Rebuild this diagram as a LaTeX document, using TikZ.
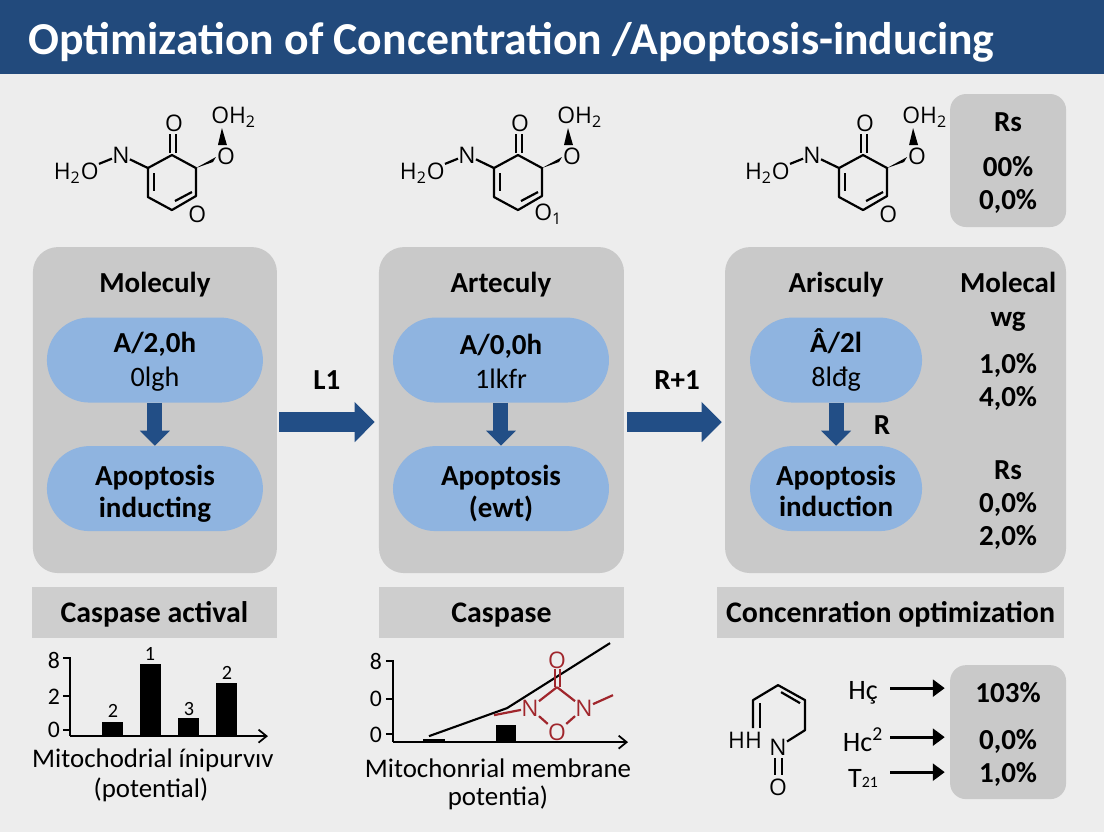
\documentclass[tikz,border=0pt]{standalone}
\usepackage{fontspec}
\setmainfont{Carlito}
\newfontfamily\chemfont{Open Sans}
\usetikzlibrary{arrows.meta,positioning}
\definecolor{pgbg}{RGB}{237,237,237}
\definecolor{pgtitle}{RGB}{34,74,124}
\definecolor{pgpanel}{RGB}{201,201,201}
\definecolor{pgbar}{RGB}{206,206,206}
\definecolor{pgpill}{RGB}{143,180,224}
\definecolor{pgarrow}{RGB}{34,78,134}
\definecolor{pgred}{RGB}{160,38,44}
\newcommand{\pilldrop}[1]{\rule{0pt}{#1}}
\tikzset{
  panelbox/.style={fill=pgpanel, rounded corners=0.5cm, inner sep=0pt},
  pillbox/.style={fill=pgpill, rounded corners=0.85cm, minimum height=1.7cm, inner sep=0pt, align=center, font=\fontsize{16}{19.3}\selectfont},
  pillboldbox/.style={pillbox, font=\fontsize{16.5}{18.2}\selectfont\bfseries},
  barbox/.style={fill=pgbar, minimum height=1.02cm, inner sep=0pt, text height=0.48cm, text depth=0.1cm, font=\fontsize{17}{18}\selectfont\bfseries},
  statbox/.style={fill=pgpanel, rounded corners=0.32cm, inner sep=0pt},
  boldlabel/.style={font=\fontsize{16.5}{18}\selectfont\bfseries, inner sep=0pt, text height=0.48cm, text depth=0.1cm},
  chartlabel/.style={font=\fontsize{15.3}{17}\selectfont, inner sep=0pt},
  ticklabel/.style={font=\fontsize{13.5}{15}\selectfont, inner sep=0pt},
  barlabel/.style={font=\fontsize{11.5}{13}\selectfont, inner sep=0pt},
  atom/.style={font=\chemfont\fontsize{13}{15}\selectfont, inner sep=0pt},
  redatom/.style={atom, text=pgred},
  bond/.style={line width=1.25pt},
  redbond/.style={line width=1.25pt, pgred},
  axisline/.style={line width=1pt, -{Straight Barb[length=1.6mm,width=2.6mm]}},
  bigarrow/.style={line width=0.4cm, pgarrow, -{Triangle[length=0.4cm,width=0.78cm]}},
  downarrow/.style={line width=0.3cm, pgarrow, -{Triangle[length=0.3cm,width=0.58cm]}},
  ratearrow/.style={line width=1.6pt, -{Triangle[length=0.24cm,width=0.34cm]}},
  pics/molecule/.style={code={
    \coordinate (-c1) at (0,0);
    \coordinate (-c2) at (24,13);
    \coordinate (-c3) at (24,41);
    \coordinate (-c4) at (0,55);
    \coordinate (-c5) at (-24,42);
    \coordinate (-c6) at (-24,13);
    \node[atom] (-ot) at (2,-32) {O};
    \node[atom] (-n) at (-51,0) {N};
    \node[atom, anchor=east] (-ho) at (-73,18) {H\textsubscript{2}O};
    \node[atom, anchor=west] (-oh) at (39,-38) {OH\textsubscript{2}};
    \node[atom] (-or) at (54,1) {O};
    \node[atom, anchor=west] (-ob) at (16,59) {#1};
    \draw[bond, line join=round] (-c1) -- (-c2) -- (-c3) -- (-c4) -- (-c5) -- (-c6) -- cycle;
    \draw[bond] (-2,-2) -- (-2,-21);
    \draw[bond] (4,-2) -- (4,-21);
    \draw[bond] (-18,18) -- (-18,36);
    \draw[bond] (3,46) -- (20,37);
    \draw[bond] (-c6) -- (-n);
    \draw[bond] (-n) -- (-ho);
    \fill (-c2) -- (44,2) -- (41,7) -- cycle;
    \fill (50,-27) -- (46,-10) -- (55,-10) -- cycle;
  }}
}
\begin{document}
\begin{tikzpicture}[x=0.02cm, y=-0.02cm]
  % Background and title
  \node[fill=pgbg, minimum width=22.08cm, minimum height=16.64cm, inner sep=0pt] (bg) at (552,416) {};
  \node[fill=pgtitle, minimum width=22.08cm, minimum height=1.48cm, inner sep=0pt] (titlebar) at (552,37) {};
  \node[anchor=west, text=white, inner sep=0pt, font=\fontsize{26}{30}\selectfont\bfseries] (title) at (28,42) {Optimization of Concentration /Apoptosis-inducing};

  % Molecules on top
  \pic (m1) at (172,155) {molecule={O}};
  \pic (m2) at (518,155) {molecule={O\textsubscript{1}}};
  \pic (m3) at (863,155) {molecule={O}};

  % Top stat box
  \node[statbox, minimum width=2.32cm, minimum height=2.66cm] (statA) at (1008,160.5) {};
  \node[boldlabel] (statA1) at (1008,122) {Rs};
  \node[boldlabel] (statA2) at (1008,167) {00\%};
  \node[boldlabel] (statA3) at (1008,200) {0,0\%};

  % Panels
  \node[panelbox, minimum width=4.88cm, minimum height=6.52cm] (panel1) at (155,410) {};
  \node[panelbox, minimum width=4.9cm, minimum height=6.52cm] (panel2) at (501.5,410) {};
  \node[panelbox, minimum width=6.82cm, minimum height=6.52cm] (panel3) at (895.5,410) {};

  \node[boldlabel] (head1) at (155,283) {Moleculy};
  \node[boldlabel] (head2) at (501,283) {Arteculy};
  \node[boldlabel] (head3) at (836,283) {Arisculy};

  % Pills
  \node[pillbox, minimum width=4.32cm] (pill1a) at (155,360) {\pilldrop{0.47cm}{\fontsize{16.5}{19.3}\selectfont\bfseries A/2,0h}\\0lgh};
  \node[pillboldbox, minimum width=4.32cm] (pill1b) at (155,488.5) {\pilldrop{0.6cm}Apoptosis\\inducting};
  \node[pillbox, minimum width=4.32cm] (pill2a) at (501,360) {\pilldrop{0.47cm}{\fontsize{16.5}{19.3}\selectfont\bfseries A/0,0h}\\1lkfr};
  \node[pillboldbox, minimum width=4.32cm] (pill2b) at (501,488.5) {\pilldrop{0.6cm}Apoptosis\\(ewt)};
  \node[pillbox, minimum width=3.44cm] (pill3a) at (836,360) {\pilldrop{0.47cm}{\fontsize{16.5}{19.3}\selectfont\bfseries Â/2l}\\8lđg};
  \node[pillboldbox, minimum width=3.44cm] (pill3b) at (836,488.5) {\pilldrop{0.5cm}Apoptosis\\induction};

  % Arrows inside panels
  \draw[downarrow] (pill1a.south) -- (pill1b.north);
  \draw[downarrow] (pill2a.south) -- (pill2b.north);
  \draw[downarrow] (pill3a.south) -- (pill3b.north);
  \node[boldlabel] (labR) at (882,425) {R};

  % Arrows between panels
  \draw[bigarrow, shorten <=0.04cm, shorten >=0.08cm] ([yshift=-0.24cm]panel1.east) -- ([yshift=-0.24cm]panel2.west);
  \draw[bigarrow, shorten <=0.06cm, shorten >=0.06cm] ([yshift=-0.24cm]panel2.east) -- ([yshift=-0.24cm]panel3.west);
  \node[boldlabel] (labL1) at (327,380) {L1};
  \node[boldlabel] (labR1) at (677,380) {R+1};

  % Third panel values
  \node[boldlabel] (valA) at (1008,283) {Molecal};
  \node[boldlabel] (valB) at (1008,317) {wg};
  \node[boldlabel] (valC) at (1008,364) {1,0\%};
  \node[boldlabel] (valD) at (1008,397) {4,0\%};
  \node[boldlabel] (valE) at (1008,470) {Rs};
  \node[boldlabel] (valF) at (1008,503) {0,0\%};
  \node[boldlabel] (valG) at (1008,536) {2,0\%};

  % Caption bars
  \node[barbox, minimum width=4.9cm] (bar1) at (154.5,612.5) {Caspase actival};
  \node[barbox, minimum width=4.9cm] (bar2) at (501.5,612.5) {Caspase};
  \node[barbox, minimum width=6.94cm] (bar3) at (890.5,612.5) {Concenration optimization};

  % Bar chart
  \draw[line width=1pt] (63,658) -- (70,658) -- (70,736);
  \draw[axisline] (70,736) -- (268,736);
  \draw[line width=1pt] (63,696) -- (70,696);
  \draw[line width=1pt] (63,730) -- (70,730);
  \node[ticklabel] (c1t1) at (54,660) {8};
  \node[ticklabel] (c1t2) at (54,697) {2};
  \node[ticklabel] (c1t3) at (54,730) {0};
  \fill (102,722) rectangle (123,736);
  \fill (140,664) rectangle (161,736);
  \fill (178,718) rectangle (199,736);
  \fill (216,683) rectangle (237,736);
  \node[barlabel] (c1b1) at (113,711) {2};
  \node[barlabel] (c1b2) at (150,654) {1};
  \node[barlabel] (c1b3) at (189,709) {3};
  \node[barlabel] (c1b4) at (227,673) {2};
  \node[chartlabel] (c1x1) at (153,760) {Mitochodrial ínipurvıv};
  \node[chartlabel] (c1x2) at (151,790) {(potential)};

  % Line chart
  \draw[line width=1pt] (386,661) -- (393,661) -- (393,742);
  \draw[axisline] (393,742) -- (628,742);
  \draw[line width=1pt] (386,699) -- (393,699);
  \draw[line width=1pt] (386,734) -- (393,734);
  \node[ticklabel] (c2t1) at (376,661) {8};
  \node[ticklabel] (c2t2) at (376,699) {0};
  \node[ticklabel] (c2t3) at (376,735) {0};
  \fill (423,739) rectangle (445,742);
  \fill (496,725) rectangle (516,742);
  \draw[line width=1.2pt] (429,736) -- (507,708) -- (610,643);
  \node[chartlabel] (c2x1) at (498,768) {Mitochonrial membrane};
  \node[chartlabel] (c2x2) at (498,798) {potentia)};

  % Red molecule over the chart
  \node[redatom] (rOt) at (557,660) {O};
  \node[redatom] (rNl) at (530,708) {N};
  \node[redatom] (rNr) at (584,708) {N};
  \node[redatom] (rOb) at (557,732) {O};
  \coordinate (rC) at (557,687);
  \coordinate (rEl) at (494,715);
  \coordinate (rEr) at (613,695);
  \draw[redbond] (555,669) -- (555,687);
  \draw[redbond] (560,669) -- (560,687);
  \draw[redbond] (rC) -- (rNl);
  \draw[redbond] (rC) -- (rNr);
  \draw[redbond] (rNl) -- (rOb);
  \draw[redbond] (rNr) -- (rOb);
  \draw[redbond] (rNl) -- (rEl);
  \draw[redbond] (rNr) -- (rEr);

  % Ring at lower right
  \node[atom] (rgN) at (778,747) {N};
  \node[atom] (rgO) at (778,787) {O};
  \node[atom] (rgH) at (745,740) {HH};
  \coordinate (rg1) at (753,728);
  \coordinate (rg2) at (753,700);
  \coordinate (rg3) at (778,685);
  \coordinate (rg4) at (805,700);
  \coordinate (rg5) at (805,730);
  \draw[bond, line join=round] (rg1) -- (rg2) -- (rg3) -- (rg4) -- (rg5) -- (rgN);
  \draw[bond] (760,703) -- (760,728);
  \draw[bond] (781,692) -- (800,703);
  \draw[bond] (775,758) -- (775,775);
  \draw[bond] (782,758) -- (782,775);

  % Rates
  \node[statbox, minimum width=2.32cm, minimum height=2.68cm] (statB) at (1008,732) {};
  \node[chartlabel, minimum width=1.08cm, font=\fontsize{16}{18}\selectfont] (rate1) at (863,693) {Hç};
  \node[chartlabel, minimum width=1.08cm, font=\fontsize{16}{18}\selectfont] (rate2) at (863,740) {Hc\textsuperscript{2}};
  \node[chartlabel, minimum width=1.08cm, font=\fontsize{16}{18}\selectfont] (rate3) at (863,778) {T{\fontsize{9}{10}\selectfont 21}};
  \draw[ratearrow, shorten >=0.1cm] ([yshift=0.1cm]rate1.east) -- ([yshift=0.1cm]rate1.east -| statB.west);
  \draw[ratearrow, shorten >=0.1cm] ([yshift=0.06cm]rate2.east) -- ([yshift=0.06cm]rate2.east -| statB.west);
  \draw[ratearrow, shorten >=0.1cm] ([yshift=0.12cm]rate3.east) -- ([yshift=0.12cm]rate3.east -| statB.west);
  \node[boldlabel] (statB1) at (1008,693) {103\%};
  \node[boldlabel] (statB2) at (1008,740) {0,0\%};
  \node[boldlabel] (statB3) at (1008,773) {1,0\%};
\end{tikzpicture}
\end{document}
